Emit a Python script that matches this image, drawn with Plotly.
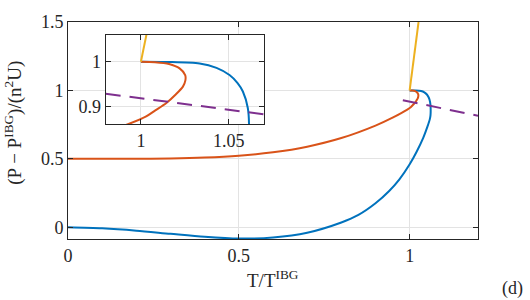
import plotly.graph_objects as go

# ---- data ----
T_blue = [0.0, 0.1, 0.2, 0.3, 0.4, 0.5, 0.6, 0.7, 0.8, 0.85, 0.9, 0.94, 0.97, 1.0, 1.02, 1.04,
          1.052, 1.059, 1.061, 1.0615, 1.0608, 1.058, 1.055, 1.0504, 1.043, 1.0334, 1.015, 1.0]
P_blue = [0.0, -0.008, -0.025, -0.048, -0.07, -0.083, -0.075, -0.04, 0.035, 0.09, 0.175, 0.265,
          0.35, 0.46, 0.55, 0.655, 0.735, 0.79, 0.82, 0.855, 0.896, 0.933, 0.952, 0.970, 0.986,
          0.996, 0.9995, 1.0]

T_red = [0.0, 0.2, 0.3, 0.4, 0.5, 0.6, 0.7, 0.8, 0.9, 0.95, 0.993, 1.003, 1.008, 1.0145,
         1.0195, 1.0239, 1.0253, 1.0252, 1.022, 1.016, 1.008, 1.0]
P_red = [0.5, 0.5006, 0.503, 0.5095, 0.523, 0.548, 0.589, 0.652, 0.743, 0.801, 0.86, 0.877,
         0.89, 0.907, 0.925, 0.944, 0.958, 0.97, 0.985, 0.995, 0.999, 1.0]

T_yellow = [1.0, 1.026]
P_yellow = [1.0, 1.5]

T_purple = [0.98, 1.2]
P_purple = [0.928, 0.815]

main_xticks = [0, 0.5, 1]
main_xlabels = ["0", "0.5", "1"]
main_yticks = [0, 0.5, 1, 1.5]
main_ylabels = ["0", "0.5", "1", "1.5"]
inset_xticks = [1, 1.05]
inset_xlabels = ["1", "1.05"]
inset_yticks = [0.9, 1]
inset_ylabels = ["0.9", "1"]

BLUE = "#0072BD"
RED = "#D95319"
YELLOW = "#EDB120"
PURPLE = "#7E2F8E"
AX = "#262626"
GRID = "#E3E3E3"
FONT = "Liberation Serif"

series = [
    (T_blue, P_blue, BLUE, "solid", "spline"),
    (T_red, P_red, RED, "solid", "spline"),
    (T_yellow, P_yellow, YELLOW, "solid", "linear"),
    (T_purple, P_purple, PURPLE, "15px,9px", "linear"),
]

fig = go.Figure()
for xa, ya in [("x", "y"), ("x2", "y2")]:
    for T, P, c, d, shp in series:
        fig.add_trace(go.Scatter(x=T, y=P, mode="lines", xaxis=xa, yaxis=ya,
                                 line=dict(color=c, width=2, dash=d, shape=shp, smoothing=0.8),
                                 showlegend=False, hoverinfo="skip"))

axis_common = dict(showline=True, linecolor=AX, linewidth=1, mirror="ticks",
                   ticks="inside", ticklen=5, tickcolor=AX, tickwidth=1,
                   showgrid=True, gridcolor=GRID, gridwidth=1, zeroline=False,
                   tickfont=dict(family=FONT, size=18, color=AX))

fig.update_layout(
    width=530, height=300,
    margin=dict(l=68, r=52, t=22, b=61),
    paper_bgcolor="white", plot_bgcolor="white",
    xaxis=dict(range=[0, 1.2], tickvals=main_xticks, ticktext=main_xlabels,
               domain=[0, 1], anchor="y", **axis_common),
    yaxis=dict(range=[-0.086, 1.5], tickvals=main_yticks, ticktext=main_ylabels,
               domain=[0, 1], anchor="x", **axis_common),
    xaxis2=dict(range=[0.98, 1.07], tickvals=inset_xticks, ticktext=inset_xlabels,
                domain=[0.092, 0.478], anchor="y2", **axis_common),
    yaxis2=dict(range=[0.86, 1.06], tickvals=inset_yticks, ticktext=inset_ylabels,
                domain=[0.530, 0.940], anchor="x2", **axis_common),
    shapes=[dict(type="rect", xref="x", yref="y", x0=0.110, x1=0.573, y0=0.756, y1=1.408,
                 fillcolor="white", line=dict(width=0), layer="between")],
    annotations=[
        dict(text="T/T<sup>IBG</sup>", xref="paper", yref="paper", x=0.5, y=-0.185,
             xanchor="center", yanchor="middle", showarrow=False,
             font=dict(family=FONT, size=19, color=AX)),
        dict(text="(P − P<sup>IBG</sup>)/(n<sup>2</sup>U)", xref="paper", yref="paper",
             x=-0.132, y=0.535, textangle=-90, xanchor="center", yanchor="middle",
             showarrow=False, font=dict(family=FONT, size=19, color=AX)),
        dict(text="(d)", xref="paper", yref="paper", x=1.085, y=-0.23,
             xanchor="center", yanchor="middle", showarrow=False,
             font=dict(family=FONT, size=18, color=AX)),
    ],
)

fig.write_html("out.html", config={"displayModeBar": False},
               post_script="document.body.style.margin='0px';document.body.style.overflow='hidden';")
